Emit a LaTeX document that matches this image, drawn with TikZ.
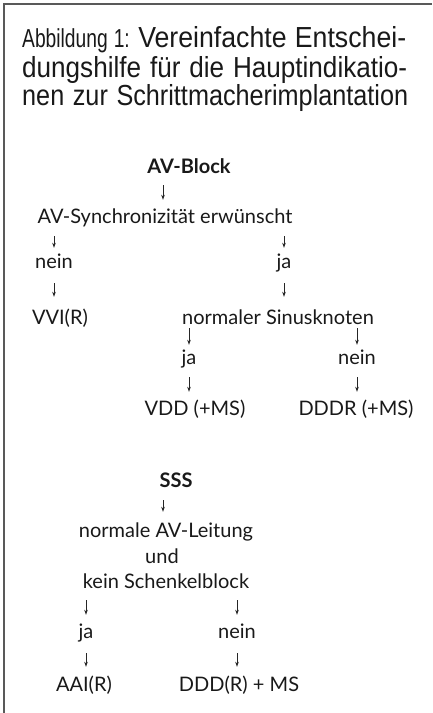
\documentclass[tikz,border=0pt]{standalone}
\usepackage{fontspec}
\setmainfont{Lato}
\newfontfamily\titlefont[FakeStretch=0.9]{Liberation Sans}
\newfontfamily\titlefontb[FakeStretch=0.92]{Liberation Sans}
\newfontfamily\titlefontc[FakeStretch=0.87]{Liberation Sans}
\newfontfamily\abbfont[FakeStretch=0.74]{Liberation Sans}
\usetikzlibrary{arrows.meta}
\begin{document}
\begin{tikzpicture}[x=1pt,y=-1pt,
  lbl/.style={anchor=base, inner sep=0pt, font=\fontsize{20}{24}\selectfont, text height=15pt, text depth=4pt, text=black!90},
  bl/.style={lbl, font=\fontsize{20}{24}\selectfont\bfseries},
  ttl/.style={anchor=base west, inner sep=0pt, text=black!90},
  arr/.style={-{Stealth[length=5pt,width=3.5pt]}, line width=0.8pt, black!85, shorten <=8pt, shorten >=8pt},
  frame/.style={draw=black!65, line width=1.5pt}]
\useasboundingbox (0,0) rectangle (432,713);
\draw[frame] (4,713) -- (4,4) -- (432,4);
% title
\node[ttl] (t1) at (22,47) {\makebox[384pt][s]{\abbfont\fontsize{26}{28}\selectfont Abbildung 1: \titlefontb\fontsize{29}{28}\selectfont Vereinfachte Entschei-}};
\node[ttl] (t2) at (22,77) {\titlefont\fontsize{29}{28}\selectfont\makebox[385pt][s]{dungshilfe für die Hauptindikatio-}};
\node[ttl] (t3) at (22,105) {\titlefontc\fontsize{29}{28}\selectfont\makebox[386pt][s]{nen zur Schrittmacherimplantation}};
% AV block tree
\node[bl] (avb) at (189,173) {AV-Block};
\coordinate (avbx) at (163,173);
\node[lbl] (avs) at (165,223) {AV-Synchronizität erwünscht};
\node[lbl] (n1) at (54,268) {nein};
\node[lbl] (j1) at (284,268) {ja};
\node[lbl] (vvi) at (60,324) {VVI(R)};
\node[lbl] (ns) at (278,324) {normaler Sinusknoten};
\node[lbl] (j2) at (189,364) {ja};
\node[lbl] (n2) at (357,364) {nein};
\node[lbl] (vdd) at (195,415) {VDD (+MS)};
\node[lbl] (dddr) at (356,415) {DDDR (+MS)};
% SSS tree
\node[bl] (sss) at (176,487) {SSS};
\coordinate (sssx) at (163,487);
\node[lbl] (nal) at (166,537) {normale AV-Leitung};
\node[lbl] (und) at (162,563) {und};
\node[lbl] (kein) at (166,588) {kein Schenkelblock};
\node[lbl] (j3) at (86,638) {ja};
\node[lbl] (n3) at (237,638) {nein};
\node[lbl] (aai) at (84,691) {AAI(R)};
\node[lbl] (ddd) at (239,691) {DDD(R) + MS};
% arrows
\draw[arr] (avbx |- avb.south) -- (avbx |- avs.north);
\draw[arr, shorten <=9pt, shorten >=5pt] (n1 |- avs.south) -- (n1.north);
\draw[arr, shorten <=9pt, shorten >=5pt] (j1 |- avs.south) -- (j1.north);
\draw[arr, shorten <=11pt, shorten >=12pt] (n1.south) -- (n1.south |- vvi.north);
\draw[arr, shorten <=11pt, shorten >=12pt] (j1.south) -- (j1.south |- ns.north);
\draw[arr, shorten <=0pt, shorten >=4pt] (j2 |- ns.south) -- (j2.north);
\draw[arr, shorten <=0pt, shorten >=4pt] (n2 |- ns.south) -- (n2.north);
\draw[arr, shorten <=9pt] (j2.south) -- (j2.south |- vdd.north);
\draw[arr, shorten <=9pt] (n2.south) -- (n2.south |- dddr.north);
\draw[arr, shorten <=9pt, shorten >=10pt] (sssx |- sss.south) -- (sssx |- nal.north);
\draw[arr] (j3 |- kein.south) -- (j3.north);
\draw[arr] (n3 |- kein.south) -- (n3.north);
\draw[arr, shorten <=11pt, shorten >=9pt] (j3.south) -- (j3.south |- aai.north);
\draw[arr, shorten <=11pt, shorten >=9pt] (n3.south) -- (n3.south |- ddd.north);
\end{tikzpicture}
\end{document}
